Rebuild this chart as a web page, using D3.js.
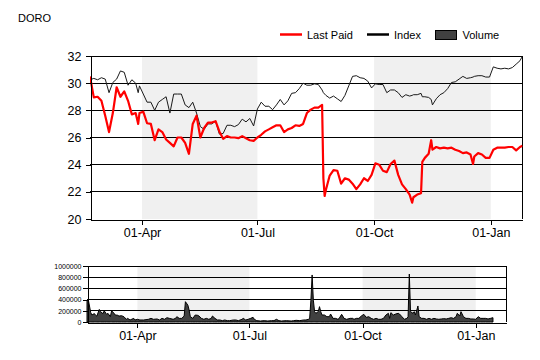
<!DOCTYPE html>
<html><head><meta charset="utf-8">
<script src="https://cdn.jsdelivr.net/npm/d3@7"></script>
<style>
body{margin:0;background:#fff}
svg{display:block}
text{font-family:"Liberation Sans",Arial,sans-serif;fill:#000}
</style>
</head><body>
<svg id="chart" width="540" height="360"></svg>
<script>
const title = "DORO";
const seriesNames = ["Last Paid", "Index", "Volume"];
const xDomain = ["2013-02-19", "2014-01-26"];
const dateTicks = ["2013-04-01", "2013-07-01", "2013-10-01", "2014-01-01"];
const shadedPeriods = [["2013-04-01", "2013-07-01"], ["2013-10-01", "2014-01-01"]];
const priceTicks = [20, 22, 24, 26, 28, 30, 32];
const volumeTicks = [0, 200000, 400000, 600000, 800000, 1000000];

const priceDates = [
"2013-02-19","2013-02-22","2013-02-25","2013-02-28","2013-03-03","2013-03-06","2013-03-09","2013-03-12","2013-03-15","2013-03-18",
"2013-03-21","2013-03-24","2013-03-27","2013-03-29","2013-03-30","2013-04-02","2013-04-05","2013-04-08","2013-04-11","2013-04-14",
"2013-04-17","2013-04-20","2013-04-23","2013-04-26","2013-04-29","2013-05-02","2013-05-05","2013-05-08","2013-05-11","2013-05-14",
"2013-05-17","2013-05-20","2013-05-23","2013-05-26","2013-05-29","2013-06-01","2013-06-04","2013-06-07","2013-06-10","2013-06-13",
"2013-06-16","2013-06-19","2013-06-22","2013-06-25","2013-06-28","2013-07-01","2013-07-04","2013-07-07","2013-07-10","2013-07-13",
"2013-07-16","2013-07-19","2013-07-22","2013-07-25","2013-07-28","2013-07-31","2013-08-03","2013-08-06","2013-08-09","2013-08-12",
"2013-08-15","2013-08-18","2013-08-21","2013-08-22","2013-08-23","2013-08-24","2013-08-27","2013-08-30","2013-09-02","2013-09-05",
"2013-09-08","2013-09-11","2013-09-14","2013-09-17","2013-09-20","2013-09-23","2013-09-26","2013-09-29","2013-10-02","2013-10-05",
"2013-10-08","2013-10-11","2013-10-14","2013-10-17","2013-10-20","2013-10-23","2013-10-26","2013-10-29","2013-10-31","2013-11-01",
"2013-11-04","2013-11-07","2013-11-08","2013-11-10","2013-11-13","2013-11-15","2013-11-16","2013-11-19","2013-11-22","2013-11-25",
"2013-11-28","2013-12-01","2013-12-04","2013-12-07","2013-12-10","2013-12-13","2013-12-16","2013-12-18","2013-12-19","2013-12-22",
"2013-12-25","2013-12-28","2013-12-31","2014-01-03","2014-01-06","2014-01-09","2014-01-12","2014-01-15","2014-01-18","2014-01-21",
"2014-01-24","2014-01-26"];

const lastPaid = [
30.5,28.95,29.0,28.7,27.6,26.4,27.8,29.7,29.0,29.4,
28.7,27.7,27.8,27.0,27.8,27.9,27.05,27.0,25.8,26.6,
26.4,25.85,25.6,25.35,26.0,26.0,25.6,24.8,27.0,27.6,
26.0,26.7,27.1,27.1,27.2,26.45,25.9,26.1,26.0,26.0,
25.95,26.1,25.95,25.8,25.75,26.0,26.2,26.45,26.6,26.75,
26.9,26.9,26.4,26.6,26.7,26.9,26.85,27.0,27.8,28.05,
28.2,28.2,28.4,23.0,21.7,22.15,23.2,23.6,23.55,22.6,
23.0,22.9,22.6,22.2,22.55,23.0,22.8,23.25,24.1,24.0,
23.55,23.45,24.05,24.3,23.25,22.55,22.2,21.8,21.2,21.6,
21.8,21.9,24.2,24.5,24.8,25.8,25.1,25.3,25.2,25.25,
25.2,25.25,25.1,25.0,24.85,24.9,24.75,24.05,24.6,24.85,
24.75,24.5,24.5,25.1,25.25,25.25,25.25,25.3,25.3,25.05,
25.3,25.4];

const indexValues = [
30.25,30.35,30.25,30.4,30.3,29.3,30.05,30.3,30.9,30.8,
29.85,30.25,30.0,29.3,29.8,29.2,28.6,28.6,28.0,28.6,
28.8,29.0,27.8,29.2,29.2,29.2,28.4,28.2,28.6,27.8,
26.8,26.6,27.0,27.0,27.2,26.25,26.3,26.9,26.9,26.8,
26.95,27.35,27.15,27.4,26.85,28.1,28.6,28.3,28.3,28.05,
28.4,28.8,28.4,28.7,29.25,29.3,29.6,30.0,29.85,29.85,
29.95,29.9,29.5,29.3,29.2,29.1,28.9,29.05,28.85,28.65,
29.1,29.8,30.5,30.55,30.4,30.35,30.15,29.65,29.95,29.9,
29.9,29.3,29.5,29.5,29.3,28.95,29.15,29.05,29.1,29.15,
29.15,29.25,29.0,29.0,28.95,28.8,28.4,28.85,29.15,29.3,
29.6,30.05,30.1,30.3,30.5,30.35,30.4,30.45,30.5,30.55,
30.55,30.45,30.45,31.2,31.1,31.05,31.1,31.05,31.15,31.4,
31.65,32.0];

const volumeDates = [
"2013-02-19","2013-02-20","2013-02-22","2013-02-23","2013-02-25","2013-02-26","2013-02-27","2013-03-01","2013-03-02","2013-03-04",
"2013-03-05","2013-03-07","2013-03-08","2013-03-10","2013-03-11","2013-03-13","2013-03-14","2013-03-16","2013-03-17","2013-03-19",
"2013-03-21","2013-03-23","2013-03-24","2013-03-26","2013-03-29","2013-03-30","2013-04-01","2013-04-03","2013-04-06","2013-04-10",
"2013-04-12","2013-04-14","2013-04-17","2013-04-19","2013-04-21","2013-04-23","2013-04-25","2013-04-27","2013-04-30","2013-05-02",
"2013-05-03","2013-05-05","2013-05-07","2013-05-09","2013-05-10","2013-05-12","2013-05-13","2013-05-14","2013-05-16","2013-05-18",
"2013-05-20","2013-05-21","2013-05-23","2013-05-25","2013-05-27","2013-05-29","2013-05-31","2013-06-01","2013-06-03","2013-06-05",
"2013-06-07","2013-06-09","2013-06-11","2013-06-13","2013-06-15","2013-06-18","2013-06-20","2013-06-22","2013-06-25","2013-06-26",
"2013-06-28","2013-06-30","2013-07-02","2013-07-04","2013-07-05","2013-07-07","2013-07-10","2013-07-13","2013-07-16","2013-07-19",
"2013-07-21","2013-07-23","2013-07-25","2013-07-27","2013-07-31","2013-08-04","2013-08-06","2013-08-08","2013-08-11","2013-08-14",
"2013-08-16","2013-08-18","2013-08-19","2013-08-20","2013-08-21","2013-08-22","2013-08-23","2013-08-24","2013-08-26","2013-08-27",
"2013-08-28","2013-08-29","2013-08-31","2013-09-02","2013-09-04","2013-09-05","2013-09-07","2013-09-09","2013-09-11","2013-09-12",
"2013-09-14","2013-09-16","2013-09-18","2013-09-21","2013-09-23","2013-09-24","2013-09-26","2013-09-28","2013-09-30","2013-10-02",
"2013-10-04","2013-10-06","2013-10-08","2013-10-10","2013-10-12","2013-10-14","2013-10-16","2013-10-18","2013-10-20","2013-10-22",
"2013-10-23","2013-10-24","2013-10-26","2013-10-28","2013-10-30","2013-10-31","2013-11-02","2013-11-04","2013-11-06","2013-11-07",
"2013-11-08","2013-11-09","2013-11-11","2013-11-12","2013-11-13","2013-11-15","2013-11-16","2013-11-18","2013-11-20","2013-11-22",
"2013-11-24","2013-11-26","2013-11-28","2013-11-30","2013-12-02","2013-12-04","2013-12-06","2013-12-08","2013-12-10","2013-12-12",
"2013-12-14","2013-12-16","2013-12-17","2013-12-19","2013-12-20","2013-12-22","2013-12-24","2013-12-26","2013-12-28","2013-12-30",
"2014-01-01","2014-01-03","2014-01-05","2014-01-07","2014-01-09","2014-01-11","2014-01-13","2014-01-15"];

const volumes = [
390000,405000,170000,125000,150000,120000,105000,225000,185000,150000,
200000,135000,155000,95000,200000,155000,125000,120000,105000,113000,
95000,48000,65000,36000,65000,36000,48000,36000,36000,48000,
65000,48000,54000,36000,65000,48000,77000,65000,48000,65000,
95000,65000,65000,107000,363000,300000,214000,95000,65000,125000,
119000,107000,65000,48000,65000,48000,65000,107000,65000,36000,
36000,24000,36000,24000,24000,36000,36000,24000,48000,65000,
36000,48000,65000,83000,48000,24000,18000,24000,18000,24000,
24000,48000,24000,18000,24000,18000,24000,30000,24000,36000,
36000,48000,65000,390000,840000,390000,185000,155000,185000,274000,
185000,125000,125000,95000,95000,143000,65000,65000,48000,65000,
137000,65000,48000,65000,65000,48000,65000,65000,107000,137000,
83000,95000,65000,48000,65000,48000,48000,65000,125000,155000,
65000,167000,125000,143000,155000,143000,95000,48000,65000,95000,
857000,185000,155000,185000,125000,286000,95000,65000,65000,48000,
65000,48000,65000,54000,48000,54000,60000,54000,65000,77000,
65000,95000,155000,107000,185000,95000,65000,65000,54000,54000,
48000,95000,65000,65000,65000,54000,65000,77000];

const parse = d3.timeParse("%Y-%m-%d");
const svg = d3.select("#chart");
svg.append("rect").attr("width", 540).attr("height", 360).attr("fill", "#fff");

const crisp = v => Math.round(v - 0.5) + 0.5;

function panel(cfg) {
  const x = d3.scaleTime().domain(xDomain.map(parse)).range([cfg.left, cfg.right]);
  const y = d3.scaleLinear().domain([cfg.ticks[0], cfg.ticks[cfg.ticks.length - 1]]).range([cfg.bottom, cfg.top]);
  const g = svg.append("g");
  // shaded quarters
  g.selectAll("rect.shade").data(shadedPeriods).join("rect")
    .attr("x", d => x(parse(d[0]))).attr("width", d => x(parse(d[1])) - x(parse(d[0])))
    .attr("y", cfg.top).attr("height", cfg.bottom - cfg.top).attr("fill", "#f0f0f0");
  // gridlines
  g.selectAll("line.grid").data(cfg.ticks.slice(1)).join("line")
    .attr("x1", cfg.left).attr("x2", cfg.right)
    .attr("y1", d => crisp(y(d))).attr("y2", d => crisp(y(d)))
    .attr("stroke", "#000").attr("stroke-width", 1).attr("shape-rendering", "crispEdges");
  // right border
  g.append("line").attr("x1", crisp(cfg.right)).attr("x2", crisp(cfg.right))
    .attr("y1", cfg.top).attr("y2", cfg.bottom)
    .attr("stroke", "#000").attr("shape-rendering", "crispEdges");
  return { x, y, g };
}

function axes(p, cfg) {
  const ya = d3.axisLeft(p.y).tickValues(cfg.ticks).tickSize(5).tickSizeOuter(0)
    .tickPadding(cfg.yPad).tickFormat(d3.format("d"));
  const yg = svg.append("g").attr("transform", `translate(${crisp(cfg.left)},0)`).call(ya);
  yg.selectAll("text").style("font-size", cfg.yFont + "px").attr("fill", "#000");
  const xa = d3.axisBottom(p.x).tickValues(dateTicks.map(parse)).tickSize(5).tickSizeOuter(0)
    .tickPadding(4).tickFormat(d3.timeFormat("%d-%b"));
  const xg = svg.append("g").attr("transform", `translate(0,${crisp(cfg.bottom)})`).call(xa);
  xg.selectAll("text").style("font-size", "12.5px").attr("fill", "#000");
  svg.selectAll(".domain, .tick line").attr("stroke", "#000").attr("shape-rendering", "crispEdges");
}

// ---- price panel
const pc = { left: 90, right: 522.5, top: 56, bottom: 219, ticks: priceTicks, yPad: 4, yFont: 12.5 };
const P = panel(pc);
const priceData = priceDates.map((d, i) => ({ date: parse(d), last: lastPaid[i], idx: indexValues[i] }));
svg.append("clipPath").attr("id", "clipP").append("rect")
  .attr("x", pc.left).attr("y", pc.top - 2).attr("width", pc.right - pc.left).attr("height", pc.bottom - pc.top + 2);
P.g.append("path").datum(priceData).attr("clip-path", "url(#clipP)")
  .attr("fill", "none").attr("stroke", "#1a1a1a").attr("stroke-width", 1)
  .attr("d", d3.line().x(d => P.x(d.date)).y(d => P.y(d.idx)));
P.g.append("path").datum(priceData).attr("clip-path", "url(#clipP)")
  .attr("fill", "none").attr("stroke", "#ff0000").attr("stroke-width", 2.2).attr("stroke-linejoin", "round")
  .attr("d", d3.line().x(d => P.x(d.date)).y(d => P.y(d.last)));
axes(P, pc);

// ---- volume panel
const vc = { left: 87, right: 506.5, top: 266, bottom: 322, ticks: volumeTicks, yPad: 1, yFont: 7 };
const V = panel(vc);
const volData = volumeDates.map((d, i) => ({ date: parse(d), v: volumes[i] }));
V.g.append("path").datum(volData)
  .attr("fill", "#404040").attr("stroke", "#000").attr("stroke-width", 1)
  .attr("d", d3.area().x(d => V.x(d.date)).y0(V.y(0)).y1(d => V.y(d.v)));
axes(V, vc);

// ---- title
svg.append("text").attr("x", 18).attr("y", 22).style("font-size", "11px").text(title);

// ---- legend
const lg = svg.append("g");
const legendItems = [
  { name: seriesNames[0], type: "line", color: "#ff0000", w: 2.5, x: 280 },
  { name: seriesNames[1], type: "line", color: "#000", w: 2.5, x: 367 },
  { name: seriesNames[2], type: "rect", color: "#404040", x: 435.5 }
];
legendItems.forEach(it => {
  if (it.type === "line") {
    lg.append("line").attr("x1", it.x).attr("x2", it.x + 22).attr("y1", 34.5).attr("y2", 34.5)
      .attr("stroke", it.color).attr("stroke-width", it.w);
  } else {
    lg.append("rect").attr("x", it.x).attr("y", 30.5).attr("width", 21).attr("height", 9)
      .attr("fill", it.color).attr("stroke", "#000").attr("stroke-width", 1);
  }
  lg.append("text").attr("x", it.x + 27).attr("y", 38.5).style("font-size", "11px").text(it.name);
});
</script>
</body></html>
